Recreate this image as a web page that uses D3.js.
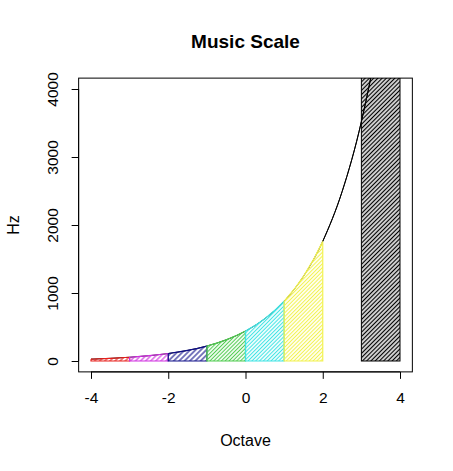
<!DOCTYPE html>
<html><head><meta charset="utf-8">
<script src="https://cdn.jsdelivr.net/npm/d3@7"></script>
<style>body{margin:0;background:#fff}text{font-family:"Liberation Sans",Arial,sans-serif}</style>
</head><body><svg id="c" width="453" height="471"></svg>
<script>
// Data: octave (relative to A4) vs frequency in Hz (A and D# notes)
const octaves = [-4, -3.5, -3, -2.5, -2, -1.5, -1, -0.5, 0, 0.5, 1, 1.5, 2, 2.5, 3, 3.5, 4];
const freqs   = [27.5, 38.89, 55, 77.78, 110, 155.56, 220, 311.13, 440, 622.25, 880, 1244.51, 1760, 2489.02, 3520, 4978.03, 7040];
// shaded octave bands
const bandStart = [-4, -3, -2, -1, 0, 1, 3];
const bandEnd   = [-3, -2, -1, 0, 1, 2, 4];
const bandColor = ["#e8201c", "#d030e0", "#10108a", "#50cc50", "#40e4e4", "#f2f250", "#000000"];
const bandSpacing = [3.6, 3.6, 3.8, 2.7, 2.7, 2.7, 3];
const xTicks = [-4, -2, 0, 2, 4];
const yTicks = [0, 1000, 2000, 3000, 4000];

const svg = d3.select("#c");
const x = d3.scaleLinear().domain([-4, 4]).range([91, 400]);
const y = d3.scaleLinear().domain([0, 4000]).range([361, 89]);
const bx0 = x(-4.32), bx1 = x(4.32), by0 = y(4160), by1 = y(-160);

const pts = octaves.map((o, i) => [o, freqs[i]]);
const defs = svg.append("defs");
defs.append("clipPath").attr("id", "plotclip").append("rect")
  .attr("x", bx0).attr("y", by0).attr("width", bx1 - bx0).attr("height", by1 - by0);

bandColor.forEach((c, i) => {
  const s = bandSpacing[i];
  const p = defs.append("pattern").attr("id", "hatch" + i).attr("patternUnits", "userSpaceOnUse")
    .attr("width", s).attr("height", s).attr("patternTransform", "rotate(45)");
  p.append("line").attr("x1", s / 2).attr("y1", -1).attr("x2", s / 2).attr("y2", s + 1)
    .attr("stroke", c).attr("stroke-width", i === 6 ? 1.4 : 1.1);
  defs.append("clipPath").attr("id", "bclip" + i).append("rect")
    .attr("x", x(bandStart[i])).attr("y", 0)
    .attr("width", x(bandEnd[i]) - x(bandStart[i])).attr("height", 471);
});

const plot = svg.append("g").attr("clip-path", "url(#plotclip)");

const lineGen = d3.line().x(d => x(d[0])).y(d => y(d[1])).curve(d3.curveMonotoneX);
plot.append("path").attr("d", lineGen(pts)).attr("fill", "none").attr("stroke", "#000").attr("stroke-width", 1);

const areaGen = d3.area().x(d => x(d[0])).y0(y(0)).y1(d => y(d[1])).curve(d3.curveMonotoneX);
bandColor.forEach((c, i) => {
  const g = plot.append("g");
  if (i < 6) {
    const sub = g.append("g").attr("clip-path", "url(#bclip" + i + ")");
    sub.append("path").attr("d", areaGen(pts)).attr("fill", "url(#hatch" + i + ")");
    sub.append("path").attr("d", lineGen(pts)).attr("fill", "none").attr("stroke", c).attr("stroke-width", 1.2);
    const xa = x(bandStart[i]), xb = x(bandEnd[i]);
    const ia = octaves.indexOf(bandStart[i]), ib = octaves.indexOf(bandEnd[i]);
    g.append("path")
      .attr("d", `M${xa},${y(freqs[ia])}L${xa},${y(0)}L${xb},${y(0)}L${xb},${y(freqs[ib])}`)
      .attr("fill", "none").attr("stroke", c).attr("stroke-width", 1.2);
  } else {
    const ia = octaves.indexOf(bandEnd[i]);
    g.append("rect").attr("x", x(bandStart[i])).attr("y", y(freqs[ia]))
      .attr("width", x(bandEnd[i]) - x(bandStart[i])).attr("height", y(0) - y(freqs[ia]))
      .attr("fill", "url(#hatch6)").attr("stroke", "#000").attr("stroke-width", 1);
  }
});
plot.append("path").attr("d", lineGen(pts.filter(d => d[0] >= 2))).attr("fill", "none").attr("stroke", "#000").attr("stroke-width", 1);

svg.append("rect").attr("x", bx0).attr("y", by0).attr("width", bx1 - bx0).attr("height", by1 - by0)
  .attr("fill", "none").attr("stroke", "#000").attr("stroke-width", 1);

const fmt = d => String(d);
const xa = svg.append("g").attr("transform", `translate(0,${by1})`)
  .call(d3.axisBottom(x).tickValues(xTicks).tickSize(7).tickPadding(13).tickSizeOuter(0).tickFormat(fmt));
xa.select(".domain").attr("d", `M${x(-4)},0H${x(4)}`);
xa.selectAll("text").attr("font-size", 15.5).attr("font-family", "Liberation Sans, Arial, sans-serif").attr("fill", "#000");

const ya = svg.append("g").attr("transform", `translate(${bx0},0)`)
  .call(d3.axisLeft(y).tickValues(yTicks).tickSize(7).tickSizeOuter(0).tickFormat(fmt));
ya.select(".domain").attr("d", `M0,${y(0)}V${y(4000)}`);
ya.selectAll("text").attr("font-size", 15.5).attr("font-family", "Liberation Sans, Arial, sans-serif").attr("fill", "#000")
  .attr("text-anchor", "middle").attr("x", 0).attr("dy", 0)
  .attr("transform", "translate(-21,0) rotate(-90)");

svg.append("text").attr("x", (bx0 + bx1) / 2).attr("y", 48).attr("text-anchor", "middle")
  .attr("font-size", 19).attr("font-weight", "bold").text("Music Scale");
svg.append("text").attr("x", (bx0 + bx1) / 2).attr("y", 446).attr("text-anchor", "middle")
  .attr("font-size", 16).text("Octave");
svg.append("text").attr("transform", `translate(19,${(by0 + by1) / 2}) rotate(-90)`).attr("text-anchor", "middle")
  .attr("font-size", 16).text("Hz");
</script></body></html>
